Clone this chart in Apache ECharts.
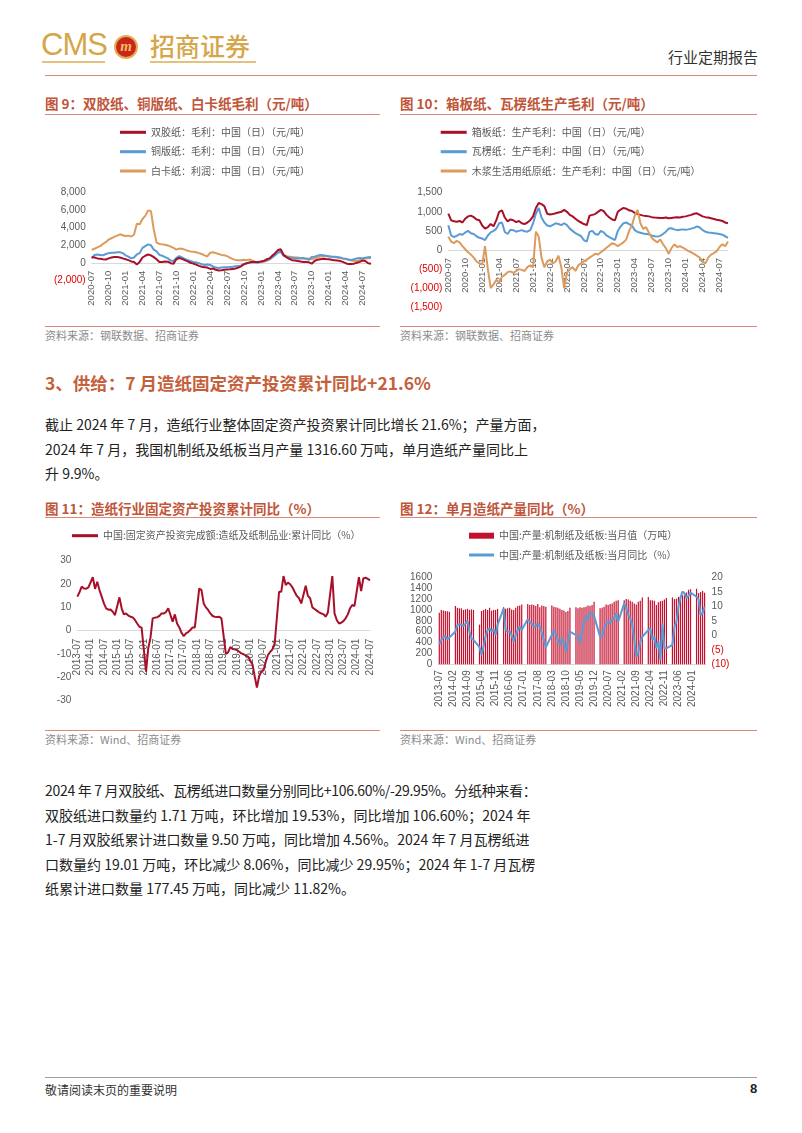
<!DOCTYPE html>
<html><head><meta charset="utf-8">
<script src="https://cdn.jsdelivr.net/npm/echarts@6/dist/echarts.min.js"></script>
<style>
body{margin:0;width:802px;height:1133px;position:relative;background:#fff;font-family:"Noto Sans CJK SC",sans-serif;overflow:hidden}
.a{position:absolute;white-space:nowrap}
.ft{font-size:13.5px;font-weight:bold;color:#c0553a;line-height:16px}
.ul{position:absolute;height:1px;background:#d98a78}
.src{font-size:11px;color:#8c8c8c;line-height:14px}
.bd{font-size:14px;color:#222;line-height:18px}
.ch{position:absolute}
</style></head>
<body>
<!-- header -->
<div class="a" style="left:41px;top:28px;font-family:'Liberation Sans Narrow','Liberation Sans',sans-serif;font-size:31px;color:#d6a64a;line-height:34px;letter-spacing:-1px">CMS</div>
<div class="a" style="left:42px;top:61px;width:63px;height:2px;background:#e2c27e"></div>
<div class="a" style="left:114px;top:35px;width:20px;height:20px;border-radius:50%;background:#c8261e;border:2px solid #e2b050;color:#f0c050;font-weight:bold;font-style:italic;font-size:15px;line-height:18px;text-align:center;font-family:'Liberation Serif',serif">m</div>
<div class="a" style="left:150px;top:30px;font-size:25px;color:#d6a64a;line-height:30px;font-weight:500">招商证券</div>
<div class="a" style="left:150px;top:61px;width:106px;height:2px;background:#e2c27e"></div>
<div class="a" style="left:668px;top:47px;font-size:15px;color:#333;line-height:20px">行业定期报告</div>
<div class="ul" style="left:45px;top:75px;width:712px"></div>

<!-- figure titles -->
<div class="a ft" style="left:45px;top:95px">图 9：双胶纸、铜版纸、白卡纸毛利（元/吨）</div>
<div class="ul" style="left:45px;top:114px;width:335px"></div>
<div class="a ft" style="left:400px;top:95px">图 10：箱板纸、瓦楞纸生产毛利（元/吨）</div>
<div class="ul" style="left:400px;top:114px;width:357px"></div>
<div class="ch" id="c9" style="left:45px;top:118px;width:335px;height:200px"></div>
<div class="ch" id="c10" style="left:400px;top:118px;width:357px;height:200px"></div>
<div class="ul" style="left:45px;top:326px;width:335px"></div>
<div class="ul" style="left:400px;top:326px;width:357px"></div>
<div class="a src" style="left:45px;top:328px">资料来源：钢联数据、招商证券</div>
<div class="a src" style="left:400px;top:328px">资料来源：钢联数据、招商证券</div>

<!-- section heading and text -->
<div class="a" style="left:45px;top:372px;font-size:17.5px;font-weight:bold;color:#c5603c;line-height:22px">3、供给：7 月造纸固定资产投资累计同比+21.6%</div>
<div class="a bd" style="left:45px;top:415px">截止 2024 年 7 月，造纸行业整体固定资产投资累计同比增长 21.6%；产量方面，</div>
<div class="a bd" style="left:45px;top:440px">2024 年 7 月，我国机制纸及纸板当月产量 1316.60 万吨，单月造纸产量同比上</div>
<div class="a bd" style="left:45px;top:464px">升 9.9%。</div>

<div class="a ft" style="left:45px;top:500px">图 11：造纸行业固定资产投资累计同比（%）</div>
<div class="ul" style="left:45px;top:517px;width:335px"></div>
<div class="a ft" style="left:400px;top:500px">图 12：单月造纸产量同比（%）</div>
<div class="ul" style="left:400px;top:517px;width:357px"></div>
<div class="ch" id="c11" style="left:45px;top:522px;width:335px;height:205px"></div>
<div class="ch" id="c12" style="left:400px;top:522px;width:357px;height:205px"></div>
<div class="ul" style="left:45px;top:730px;width:335px"></div>
<div class="ul" style="left:400px;top:730px;width:357px"></div>
<div class="a src" style="left:45px;top:732px">资料来源：Wind、招商证券</div>
<div class="a src" style="left:400px;top:732px">资料来源：Wind、招商证券</div>

<div class="a bd" style="left:45px;top:781px;letter-spacing:-0.3px">2024 年 7 月双胶纸、瓦楞纸进口数量分别同比+106.60%/-29.95%。分纸种来看：</div>
<div class="a bd" style="left:45px;top:806px">双胶纸进口数量约 1.71 万吨，环比增加 19.53%，同比增加 106.60%；2024 年</div>
<div class="a bd" style="left:45px;top:830px">1-7 月双胶纸累计进口数量 9.50 万吨，同比增加 4.56%。2024 年 7 月瓦楞纸进</div>
<div class="a bd" style="left:45px;top:855px">口数量约 19.01 万吨，环比减少 8.06%，同比减少 29.95%；2024 年 1-7 月瓦楞</div>
<div class="a bd" style="left:45px;top:879px">纸累计进口数量 177.45 万吨，同比减少 11.82%。</div>

<!-- footer -->
<div class="a" style="left:45px;top:1077px;width:712px;height:1px;background:#a0a0a0"></div>
<div class="a" style="left:45px;top:1082px;font-size:12px;color:#333;line-height:16px">敬请阅读末页的重要说明</div>
<div class="a" style="left:750px;top:1081px;font-size:13px;font-weight:bold;color:#222;line-height:16px;font-family:'Liberation Sans',sans-serif">8</div>

<script>
// ---------- categories ----------
const halfMonthDates = [];
for (let y = 2020, m = 7; y < 2024 || (y === 2024 && m <= 8); m++) {
  if (m > 12) { m = 1; y++; }
  const mm = (m < 10 ? '0' : '') + m;
  halfMonthDates.push(y + '-' + mm + '-01', y + '-' + mm + '-16');
}
const months = [];
for (let y = 2013, m = 7; y < 2024 || (y === 2024 && m <= 7); m++) {
  if (m > 12) { m = 1; y++; }
  months.push(y + '-' + (m < 10 ? '0' : '') + m);
}

// ---------- Figure 9 (元/吨, semi-monthly 2020-07 .. 2024-08) ----------
const fig9Names = ['双胶纸：毛利：中国（日）（元/吨）', '铜版纸：毛利：中国（日）（元/吨）', '白卡纸：利润：中国（日）（元/吨）'];
const woodfreeProfit = [
  650, 600, 500, 450, 400, 380, 500, 600, 650, 650, 600, 500,
  400, 300, 150, 80, -200, 100, 600, 800, 950, 850, 650, 400, 100, 80, 150, 120, -50, -100, 400, 550, 450, 300, 150, 0,
  -100, -200, -350, -450, -500, -550, -700, -650, -800, -880, -850, -800, -760, -750, -700, -650, -550, -400, -150, -50, 50, 80, 100, 80,
  150, 200, 400, 500, 800, 1100, 1450, 1550, 900, 650, 450, 300, 250, 200, 150, 100, 80, 50, -100, 200, 350, 400, 450, 420,
  400, 350, 300, 250, 200, 100, -50, -150, -150, -100, 0, 100, 250, 200, -50, -100];
const coatedProfit = [
  500, 900, 950, 900, 850, 1000, 1100, 1150, 1150, 1200, 1200, 1100,
  850, 700, 500, 600, 950, 1100, 1700, 1900, 2100, 2000, 1500, 1300, 900, 800, 650, 500, 250, 200, 550, 750, 600, 450, 300, 200,
  100, 50, -50, -150, -250, -200, -250, -400, -550, -600, -550, -500, -500, -480, -450, -400, -380, -300, -150, -50, 0, 50, 30, 0,
  100, 200, 300, 400, 600, 850, 1150, 1250, 800, 700, 600, 550, 520, 480, 500, 550, 450, 350, 650, 700, 800, 900, 850, 800,
  750, 700, 700, 650, 600, 500, 450, 380, 330, 400, 500, 550, 530, 580, 620, 650];
const ivoryProfit = [
  1490, 1600, 1750, 1900, 2150, 2350, 2650, 2800, 2950, 3100, 3250, 3150,
  3050, 3100, 3000, 3200, 4450, 4400, 5000, 5350, 5980, 5900, 3800, 2300, 2150, 2100, 2050, 1980, 1850, 1700, 1500, 1620, 1600, 1500, 1380, 1300,
  1250, 1200, 1100, 1000, 850, 720, 1150, 1200, 1100, 1000, 900, 850, 760, 600, 420, 330, 300, 280, 350, 300, 380, 250, 120, 80,
  100, 150, 200, 400, 700, 1000, 1300, 1450, 900, 750, 700, 650, 620, 600, 550, 500, 480, 450, 400, 500, 620, 700, 780, 750,
  720, 680, 650, 600, 550, 500, 420, 350, 250, 200, 220, 300, 420, 480, 520, 550];

// ---------- Figure 10 ----------
const fig10Names = ['箱板纸：生产毛利：中国（日）（元/吨）', '瓦楞纸：生产毛利：中国（日）（元/吨）', '木浆生活用纸原纸：生产毛利：中国（日）（元/吨）'];
const containerboardProfit = [
  950, 780, 750, 740, 760, 720, 820, 880, 900, 860, 800, 780,
  640, 560, 600, 680, 620, 780, 1000, 1040, 850, 750, 800, 780, 730, 760, 700, 680, 720, 780, 880, 1100, 1230, 1200, 1150, 950,
  930, 940, 960, 980, 1000, 1050, 1000, 920, 880, 820, 760, 720, 680, 650, 900, 920, 940, 1000, 1050, 1020, 920, 850, 800, 780,
  1000, 1060, 1100, 1080, 1040, 1020, 970, 940, 920, 900, 890, 880, 860, 850, 845, 840, 840, 850, 830, 840, 850, 860, 850, 870,
  880, 900, 920, 950, 960, 920, 880, 860, 850, 830, 810, 790, 780, 760, 720, 700];
const corrugatedProfit = [
  650, 380, 340, 370, 420, 400, 460, 500, 440, 420, 360, 320,
  300, 260, 380, 460, 500, 560, 700, 720, 470, 420, 530, 520, 480, 500, 520, 490, 480, 520, 700, 950, 1100, 850, 720, 640,
  620, 660, 700, 680, 650, 700, 650, 560, 500, 440, 400, 360, 260, 220, 480, 500, 420, 400, 500, 460, 380, 340, 300, 260,
  500, 620, 700, 720, 680, 640, 520, 470, 450, 430, 420, 410, 380, 360, 350, 370, 420, 480, 560, 570, 540, 520, 530, 540,
  530, 540, 560, 580, 620, 590, 520, 480, 460, 450, 440, 430, 420, 400, 360, 320];
const tissueProfit = [
  350, 220, 180, 240, 200, 100, 20, -60, -120, -200, -300, -350,
  -380, 100, -500, -1000, -900, -780, -850, -700, -650, -580, -560, -600, -550, -500, -520, -550, -450, -400, -450, 480, 350, -200, -450, -300,
  -250, -350, -300, -150, -450, -1000, -600, -500, -450, -550, -400, -350, -300, -250, -200, -150, -100, -120, -60, 0, 60, 120, 180, 150,
  100, 150, 200, 280, 500, 650, 900, 1050, 700, 550, 600, 450, 320, 250, 200, 280, 150, 50, -100, 50, 150, 80, 100, 60,
  20, -30, -60, -100, -150, -200, -300, -350, -200, -120, -80, -30, 80, 150, 100, 220];

// ---------- Figure 11 (monthly 2013-07 .. 2024-07) ----------
const fig11Name = '中国:固定资产投资完成额:造纸及纸制品业:累计同比（%）';
const fixedInvestYoY = [
  14.6, 16.5, 18.9, 18.1, 18.0, 18.6,
  null, 22.9, 17.9, 21.0, 17.4, 14.6, 11.7, 9.6, 9.0, 9.1, 8.1, 6.7,
  null, 14.3, 9.6, 7.0, 7.4, 6.5, 6.0, 5.7, 4.6, 3.1, 1.7, 1.3,
  null, -17.6, -7.5, -3.0, 5.3, 5.6, 5.8, 6.3, 7.4, 7.4, 8.0, 9.6,
  null, 3.9, 7.0, 3.1, 1.4, -0.9, -2.3, -1.1, -0.6, 0.3, 1.4, 1.4,
  null, 18.1, 17.4, 11.7, 10.0, 8.9, 7.4, 6.3, 6.0, 5.9, 6.0, 5.3,
  null, -10.0, -9.3, -7.0, -7.8, -8.0, -8.3, -9.0, -9.7, -10.1, -10.7, -11.1,
  null, -14.5, -19.5, -24.4, -19.5, -17.5, -16.9, -13.3, -10.4, -9.0, -8.0, -5.7,
  null, 16.7, 16.7, 23.4, 19.6, 20.6, 19.9, 18.6, 16.7, 14.9, 13.9, 11.7,
  null, 19.3, 14.9, 13.9, 10.0, 9.3, 8.6, 7.9, 7.4, 7.1, 6.0, 7.8,
  null, 23.4, 7.4, 4.6, 3.1, 3.4, 4.1, 5.3, 7.0, 9.6, 11.0, 10.6,
  null, 22.9, 17.0, 22.4, 22.7, 22.2, 21.6];

// ---------- Figure 12 ----------
const fig12Names = ['中国:产量:机制纸及纸板:当月值（万吨）', '中国:产量:机制纸及纸板:当月同比（%）'];
const paperOutput = [
  950, 1000, 990, 980, 975, 965,
  null, null, 1070, 1040, 1030, 1030, 1000, 1010, 1020, 1000, 1010, 1000,
  null, null, 730, 980, 1000, 1020, 1000, 1040, 985, 1000, 1000, 1020,
  null, null, 1050, 1020, 1030, 1040, 1010, 1000, 1040, 1070, 1080, 1100,
  null, null, 1110, 1090, 1100, 1090, 1070, 1110, 1050, 1080, 1070, 1060,
  null, null, 1080, 1060, 1050, 1040, 1020, 1000, 990, 960, 980, 1040,
  null, null, 1050, 1030, 1050, 1040, 1050, 1060, 1080, 1070, 1090, 1150,
  null, null, 1030, 1040, 1060, 1100, 1090, 1110, 1120, 1150, 1170, 1180,
  null, null, 1180, 1200, 1190, 1170, 1150, 1120, 1100, 1150, 1170, 1230,
  null, null, 1240, 1180, 1180, 1170, 1090, 1140, 1160, 1170, 1190, 1220,
  null, null, 1230, 1200, 1210, 1240, 1250, 1270, 1300, 1320, 1370, 1380,
  null, null, 1390, 1310, 1330, 1350, 1316.6];
const paperOutputYoY = [
  -3.0, -1.6, -0.7, -0.2, -1.4, -0.8,
  null, null, 1.3, 3.6, 3.9, 3.6, 3.3, 3.9, 5.1, 1.3, -1.0, -1.6,
  null, null, -4.1, -6.8, -3.9, -0.5, 1.8, 2.4, 1.3, 2.1, 0.1, 3.6,
  null, null, 9.3, 1.8, 1.3, 1.3, 0.1, -2.2, 0.1, 1.8, 3.0, 1.8,
  null, null, 5.5, 4.7, 4.1, 3.0, 3.3, 4.1, 3.0, 0.9, -1.6, -4.1,
  null, null, 0.1, 1.6, 0.5, -1.8, -3.3, -1.0, -2.8, -5.6, -2.0, 1.3,
  null, null, 0.1, -0.5, -2.5, 0.7, 4.7, 6.7, 5.5, 7.8, 7.6, 6.7,
  null, null, -0.5, -0.3, 2.4, 4.1, 4.7, 4.3, 5.3, 5.9, 7.6, 4.7,
  null, null, 11.0, 9.3, 7.0, 5.9, 3.6, -1.6, -7.4, -6.2, -2.2, -0.5,
  null, null, 1.8, 2.4, -1.6, -0.5, -4.5, -2.0, -8.5, 4.1, -4.5, -4.5,
  null, null, -3.3, 3.0, 4.7, 9.9, 13.0, 15.1, 14.5, 12.8, 13.7, 14.7,
  null, null, 13.3, 12.5, 7.0, 7.6, 9.9];

// ---------- styles ----------
const RED = '#a8102a', BLUE = '#5b9bd5', ORANGE = '#dc9b5c', BAR = '#c4102f';
const LBL = '#595959', NEG = '#e00000', AXIS = '#d9d9d9';
const numFont = "'Liberation Sans', Arial, sans-serif";
const cjkFont = "'Noto Sans CJK SC', sans-serif";
function commaParen(v) {
  const s = Math.abs(v).toString().replace(/\B(?=(\d{3})+(?!\d))/g, ',');
  return v < 0 ? '(' + s + ')' : s;
}
function legendAt(name, left, centerY, opts) {
  return Object.assign({
    data: [name], left: left, top: centerY - 7, orient: 'vertical',
    icon: 'rect', itemWidth: 26, itemHeight: 3, itemGap: 0, padding: 0,
    textStyle: { fontSize: 10, color: LBL, fontFamily: cjkFont, lineHeight: 14 }
  }, opts || {});
}
function lineSeries(name, data, color, width, extra) {
  return Object.assign({ name: name, type: 'line', data: data, symbol: 'none', showSymbol: false,
    lineStyle: { color: color, width: width }, itemStyle: { color: color } }, extra || {});
}
function grid(l, r, t, b) {
  return { left: l, right: r, top: t, bottom: b, containLabel: false, outerBoundsMode: 'none' };
}
// x axis drawn along the zero line: shifted up from the grid bottom by `lift` px
function dateAxis(data, every, fs, lift) {
  return { type: 'category', data: data, boundaryGap: false, offset: -lift,
    axisLine: { onZero: false, lineStyle: { color: AXIS } }, axisTick: { show: false },
    axisLabel: { rotate: 90, fontSize: fs, color: LBL, fontFamily: numFont, margin: 8,
      interval: (i) => i % every === 0, formatter: (v) => v.slice(0, 7) } };
}
function valAxis(min, max, step, fmt, negRed) {
  return { type: 'value', min: min, max: max, interval: step, splitLine: { show: false },
    axisLine: { show: false }, axisTick: { show: false },
    axisLabel: { fontSize: 10, fontFamily: numFont, margin: 6, formatter: fmt,
      color: negRed ? (v) => (Number(v) < 0 ? NEG : LBL) : LBL } };
}

// ---------- chart 9 ----------
echarts.init(document.getElementById('c9')).setOption({
  animation: false,
  grid: grid(46.7, 9, 74.7, 37.7),
  legend: [legendAt(fig9Names[0], 75, 14.3), legendAt(fig9Names[1], 75, 33.7), legendAt(fig9Names[2], 75, 53)],
  xAxis: dateAxis(halfMonthDates, 6, 9.5, 17.5),
  yAxis: valAxis(-2000, 8000, 2000, commaParen, true),
  series: [
    lineSeries(fig9Names[0], woodfreeProfit, RED, 2, { z: 4 }),
    lineSeries(fig9Names[1], coatedProfit, BLUE, 2, { z: 3 }),
    lineSeries(fig9Names[2], ivoryProfit, ORANGE, 2, { z: 2 })
  ]
});

// ---------- chart 10 ----------
echarts.init(document.getElementById('c10')).setOption({
  animation: false,
  grid: grid(48.3, 29, 74.7, 10.7),
  legend: [legendAt(fig10Names[0], 40.7, 14.3), legendAt(fig10Names[1], 40.7, 33.7), legendAt(fig10Names[2], 40.7, 53)],
  xAxis: dateAxis(halfMonthDates, 6, 9.5, 57.3),
  yAxis: valAxis(-1500, 1500, 500, commaParen, true),
  series: [
    lineSeries(fig10Names[0], containerboardProfit, RED, 2, { z: 4 }),
    lineSeries(fig10Names[1], corrugatedProfit, BLUE, 2, { z: 3 }),
    lineSeries(fig10Names[2], tissueProfit, ORANGE, 2, { z: 5 })
  ]
});

// ---------- chart 11 ----------
echarts.init(document.getElementById('c11')).setOption({
  animation: false,
  grid: grid(32.3, 10, 38.7, 26.3),
  legend: [legendAt(fig11Name, 27, 13.7)],
  xAxis: dateAxis(months, 6, 10, 70),
  yAxis: valAxis(-30, 30, 10, (v) => String(v), false),
  series: [lineSeries(fig11Name, fixedInvestYoY, RED, 2, { connectNulls: true })]
});

// ---------- chart 12 ----------
echarts.init(document.getElementById('c12')).setOption({
  animation: false,
  grid: grid(38.3, 51.4, 55.3, 62.7),
  legend: [
    legendAt(fig12Names[0], 69, 13.7, { itemWidth: 25, itemHeight: 6 }),
    legendAt(fig12Names[1], 69, 33, { itemWidth: 25 })
  ],
  xAxis: { type: 'category', data: months, boundaryGap: true,
    axisLine: { lineStyle: { color: AXIS } }, axisTick: { show: false },
    axisLabel: { rotate: 90, interval: 6, fontSize: 10, color: LBL, fontFamily: numFont, margin: 6 } },
  yAxis: [
    valAxis(0, 1600, 200, (v) => String(v), false),
    Object.assign(valAxis(-10, 20, 5, (v) => (v < 0 ? '(' + (-v) + ')' : String(v)), true), { position: 'right' })
  ],
  series: [
    { name: fig12Names[0], type: 'bar', data: paperOutput, barWidth: 1.2, itemStyle: { color: BAR } },
    lineSeries(fig12Names[1], paperOutputYoY, BLUE, 2, { yAxisIndex: 1, connectNulls: true, z: 5 })
  ]
});
</script>
</body></html>
